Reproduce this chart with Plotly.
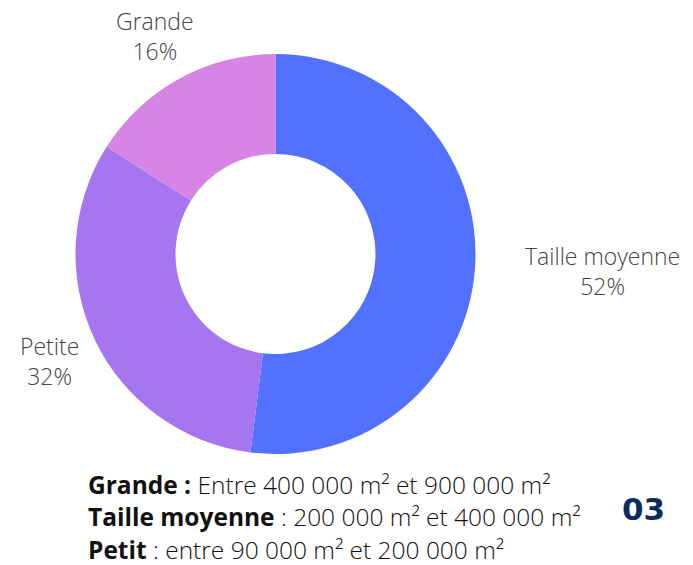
import math
import plotly.graph_objects as go

categories = ["Taille moyenne", "Petite", "Grande"]
values = [52, 32, 16]
colors = ["#5271FF", "#A675F0", "#D685E4"]

legend_lines = [
    ("Grande :", " Entre 400 000 m² et 900 000 m²"),
    ("Taille moyenne", " : 200 000 m² et 400 000 m²"),
    ("Petit", " : entre 90 000 m² et 200 000 m²"),
]
badge = "03"

W, H = 693, 565
CX, CY, R = 275.5, 254, 200
LABEL_R = 250

fig = go.Figure(go.Pie(
    labels=categories,
    values=values,
    hole=0.5,
    sort=False,
    direction="clockwise",
    rotation=0,
    marker=dict(colors=colors, line=dict(width=0)),
    textinfo="none",
    hoverinfo="label+percent",
    showlegend=False,
    domain=dict(x=[(CX - R) / W, (CX + R) / W], y=[1 - (CY + R) / H, 1 - (CY - R) / H]),
))

annos = []
total = sum(values)
acc = 0
for cat, v in zip(categories, values):
    mid = (acc + v / 2) / total * 2 * math.pi
    acc += v
    px = CX + LABEL_R * math.sin(mid)
    py = CY - LABEL_R * math.cos(mid)
    xanchor = "left" if math.sin(mid) > 0.9 else "center"
    annos.append(dict(
        x=(px - 2 if xanchor == "left" else px) / W, y=1 - (py + 1) / H, xref="paper", yref="paper",
        xanchor=xanchor, yanchor="middle", showarrow=False, align="center",
        text=f"{cat}<br>{round(v / total * 100)}%",
        font=dict(family="Open Sans", size=23, color="#444444", weight=300),
    ))

ys = [484, 516.5, 549]
for (b, r), y in zip(legend_lines, ys):
    annos.append(dict(
        x=86 / W, y=1 - y / H, xref="paper", yref="paper", xanchor="left", yanchor="middle",
        showarrow=False,
        text=f"<b>{b}</b><span style='font-weight:300'>{r}</span>",
        font=dict(family="Open Sans", size=24.5, color="#111111"),
    ))
annos.append(dict(
    x=643 / W, y=1 - 509 / H, xref="paper", yref="paper", xanchor="center", yanchor="middle",
    showarrow=False, text=f"<b>{badge}</b>",
    font=dict(family="DejaVu Sans", size=31, color="#0C2D5B"),
))

fig.update_layout(
    width=W, height=H,
    margin=dict(l=0, r=0, t=0, b=0),
    paper_bgcolor="white", plot_bgcolor="white",
    annotations=annos,
)
fig.write_html("out.html", config={"displayModeBar": False},
               post_script="document.body.style.margin='0';document.body.style.overflow='hidden';")
